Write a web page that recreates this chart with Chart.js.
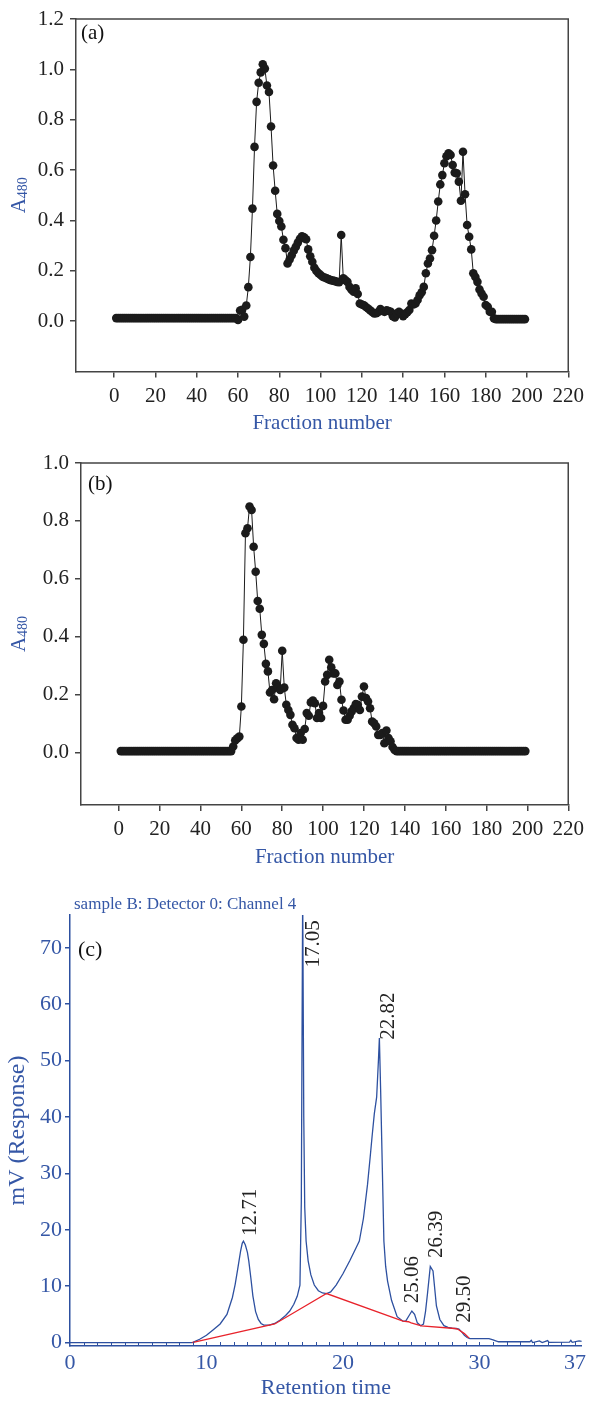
<!DOCTYPE html>
<html>
<head>
<meta charset="utf-8">
<script src="https://cdn.jsdelivr.net/npm/chart.js@4.4.1/dist/chart.umd.min.js"></script>
<style>
  html, body { margin: 0; padding: 0; background: #fff; }
  #wrap { position: relative; width: 590px; height: 1401px; }
  canvas { position: absolute; left: 0; }
</style>
</head>
<body>
<div id="wrap">
  <canvas id="chartA" width="590" height="440" style="top:0"></canvas>
  <canvas id="chartB" width="590" height="440" style="top:440px"></canvas>
  <canvas id="chartC" width="590" height="521" style="top:880px"></canvas>
</div>
<script>
/* ── Panels (a) and (b): A480 per fraction, fractions start at 1 ── */
const FIRST_FRACTION = 1;
const FRACTION_TICKS = [0, 20, 40, 60, 80, 100, 120, 140, 160, 180, 200, 220];

const A_VALUES = [
  0.012,0.012,0.012,0.012,0.012,0.012,0.012,0.012,0.012,0.012,
  0.012,0.012,0.012,0.012,0.012,0.012,0.012,0.012,0.012,0.012,
  0.012,0.012,0.012,0.012,0.012,0.012,0.012,0.012,0.012,0.012,
  0.012,0.012,0.012,0.012,0.012,0.012,0.012,0.012,0.012,0.012,
  0.012,0.012,0.012,0.012,0.012,0.012,0.012,0.012,0.012,0.012,
  0.012,0.012,0.012,0.012,0.012,0.012,0.012,0.012,0.012,0.005,
  0.042,0.045,0.018,0.062,0.135,0.255,0.447,0.692,0.871,0.947,
  0.988,1.02,1.003,0.936,0.91,0.773,0.618,0.518,0.426,0.398,
  0.376,0.323,0.29,0.229,0.245,0.262,0.28,0.295,0.312,0.327,
  0.337,0.333,0.325,0.285,0.258,0.236,0.212,0.199,0.19,0.183,
  0.176,0.173,0.17,0.166,0.163,0.161,0.159,0.156,0.155,0.342,
  0.17,0.163,0.156,0.136,0.125,0.117,0.13,0.108,0.07,0.066,
  0.063,0.056,0.05,0.043,0.036,0.031,0.032,0.036,0.048,0.04,
  0.037,0.043,0.04,0.037,0.02,0.015,0.031,0.037,0.03,0.02,
  0.028,0.035,0.044,0.07,0.066,0.07,0.084,0.103,0.115,0.136,
  0.19,0.229,0.249,0.282,0.339,0.40,0.475,0.543,0.58,0.627,
  0.655,0.667,0.66,0.62,0.59,0.587,0.554,0.478,0.673,0.504,
  0.382,0.335,0.285,0.19,0.175,0.156,0.126,0.11,0.097,0.064,
  0.057,0.037,0.037,0.011,0.008,0.008,0.008,0.008,0.008,0.008,
  0.008,0.008,0.008,0.008,0.008,0.008,0.008,0.008,0.008
];

const B_VALUES = [
  0.006,0.006,0.006,0.006,0.006,0.006,0.006,0.006,0.006,0.006,
  0.006,0.006,0.006,0.006,0.006,0.006,0.006,0.006,0.006,0.006,
  0.006,0.006,0.006,0.006,0.006,0.006,0.006,0.006,0.006,0.006,
  0.006,0.006,0.006,0.006,0.006,0.006,0.006,0.006,0.006,0.006,
  0.006,0.006,0.006,0.006,0.006,0.006,0.006,0.006,0.006,0.006,
  0.006,0.006,0.006,0.006,0.006,0.022,0.043,0.05,0.056,0.16,
  0.39,0.758,0.775,0.85,0.838,0.711,0.625,0.524,0.497,0.407,
  0.376,0.307,0.281,0.208,0.217,0.185,0.24,0.225,0.217,0.352,
  0.225,0.166,0.148,0.131,0.097,0.085,0.051,0.045,0.068,0.045,
  0.082,0.137,0.128,0.174,0.18,0.171,0.12,0.137,0.12,0.162,
  0.246,0.269,0.321,0.295,0.274,0.274,0.234,0.246,0.183,0.146,
  0.114,0.114,0.128,0.143,0.154,0.168,0.166,0.148,0.194,0.229,
  0.189,0.177,0.154,0.108,0.102,0.091,0.062,0.062,0.068,0.033,
  0.077,0.051,0.04,0.02,0.01,0.006,0.006,0.006,0.006,0.006,
  0.006,0.006,0.006,0.006,0.006,0.006,0.006,0.006,0.006,0.006,
  0.006,0.006,0.006,0.006,0.006,0.006,0.006,0.006,0.006,0.006,
  0.006,0.006,0.006,0.006,0.006,0.006,0.006,0.006,0.006,0.006,
  0.006,0.006,0.006,0.006,0.006,0.006,0.006,0.006,0.006,0.006,
  0.006,0.006,0.006,0.006,0.006,0.006,0.006,0.006,0.006,0.006,
  0.006,0.006,0.006,0.006,0.006,0.006,0.006,0.006,0.006
];

const A_Y_TICKS = [0, 0.2, 0.4, 0.6, 0.8, 1.0, 1.2];
const B_Y_TICKS = [0, 0.2, 0.4, 0.6, 0.8, 1.0];

/* ── Panel (c): chromatogram ── */
const RT_TIMES = [
  0, 8.9, 9.0, 9.5, 10.0, 10.5, 11.0, 11.5, 11.9, 12.1,
  12.3, 12.5, 12.62, 12.71, 12.85, 13.0, 13.1, 13.25, 13.4, 13.6,
  13.8, 14.0, 14.2, 14.6, 15.0, 15.4, 15.8, 16.1, 16.4, 16.65,
  16.85, 16.95, 17.05, 17.13, 17.2, 17.3, 17.45, 17.65, 17.9, 18.2,
  18.5, 18.8, 19.1, 19.5, 20.0, 20.5, 21.0, 21.2, 21.5, 21.8,
  22.0, 22.13, 22.3, 22.47, 22.6, 22.67, 22.76, 22.84, 22.93, 23.0,
  23.13, 23.27, 23.56, 23.97, 24.4, 24.6, 24.85, 25.05, 25.25, 25.45,
  25.7, 25.9, 26.05, 26.2, 26.4, 26.6, 26.85, 27.1, 27.4, 27.7,
  28.0, 28.3, 28.5, 28.7, 28.9, 29.1, 29.3, 30.0, 30.7, 31.0,
  31.4, 33.7, 33.8, 33.9, 34.4, 34.6, 35.0, 35.1, 36.6, 36.7,
  36.8, 37.3, 37.5
];
const RT_MV = [
  0, 0, 0.05, 0.6, 1.3, 2.3, 3.3, 5.0, 8.0, 10.3,
  13.2, 16.2, 17.6, 18.0, 17.3, 16.0, 14.5, 11.5, 8.3, 5.5,
  4.1, 3.4, 3.1, 3.1, 3.4, 4.0, 4.8, 5.6, 6.8, 8.2,
  10.2, 25, 80, 40, 24, 18, 14.5, 12, 10.2, 9.2,
  8.8, 8.7, 9.0, 10.2, 12.2, 14.5, 17.0, 18.0, 22.0, 28.0,
  33.0, 36.4, 40.6, 43.5, 50.0, 54.0, 45.0, 36.0, 26.0, 18.0,
  13.5, 10.9, 7.5, 4.6, 3.8, 3.8, 4.8, 5.6, 5.0, 3.5,
  3.0, 3.3, 5.5, 8.8, 13.5, 12.7, 6.5, 4.1, 3.0, 2.7,
  2.55, 2.5, 2.4, 1.9, 1.3, 0.9, 0.7, 0.7, 0.7, 0.5,
  0.15, 0.15, 0.4, 0.0, 0.3, 0.0, 0.35, 0.05, 0.1, 0.4,
  0.05, 0.3, 0.2
];

// integration baseline (red)
const BASE_TIMES = [8.95, 15.0, 18.8, 24.4, 24.8, 25.0, 25.75, 28.2, 28.4, 28.9, 29.25];
const BASE_MV    = [0, 3.3, 8.7, 3.8, 3.7, 3.5, 2.95, 2.5, 2.4, 1.6, 0.8];

const RT_TICKS = [0, 10, 20, 30, 37];
const MV_TICKS = [0, 10, 20, 30, 40, 50, 60, 70];

// peak annotations: text, label anchor in data units
const PEAK_NOTES = [
  { text: '12.71', t: 13.24, v: 18.9 },
  { text: '17.05', t: 17.87, v: 66.5 },
  { text: '22.82', t: 23.33, v: 53.7 },
  { text: '25.06', t: 25.09, v: 7.0 },
  { text: '26.39', t: 26.84, v: 15.0 },
  { text: '29.50', t: 28.87, v: 3.5 }
];

// ── Styles ────────────────────────────────
const SERIF      = '"Liberation Serif", "Times New Roman", serif';
const INK        = '#1b1b1b';
const AXIS_GREY  = '#444444';
const BLUE_TEXT  = '#3557a6';
const BLUE_LINE  = '#2d50a0';
const RED_LINE   = '#e8232b';

Chart.defaults.font.family = SERIF;

// Box, panel letter and A480 title
const decor = {
  id: 'decor',
  afterDraw(chart, args, o) {
    const { ctx, chartArea: a } = chart;
    ctx.save();
    if (o.box) {
      ctx.strokeStyle = AXIS_GREY;
      ctx.lineWidth = 1.5;
      ctx.beginPath();
      ctx.moveTo(a.left, a.top);
      ctx.lineTo(a.right, a.top);
      ctx.lineTo(a.right, a.bottom);
      ctx.stroke();
    }
    ctx.fillStyle = '#111';
    ctx.font = o.letterSize + 'px ' + SERIF;
    ctx.textAlign = 'left';
    ctx.textBaseline = 'alphabetic';
    ctx.fillText(o.letter, a.left + o.letterX, a.top + o.letterY);

    // rotated y title
    ctx.translate(o.titleX, (a.top + a.bottom) / 2);
    ctx.rotate(-Math.PI / 2);
    ctx.fillStyle = BLUE_TEXT;
    ctx.font = '21px ' + SERIF;
    const w1 = ctx.measureText(o.title).width;
    let w2 = 0;
    if (o.sub) {
      ctx.font = '14px ' + SERIF;
      w2 = ctx.measureText(o.sub).width;
    }
    const start = -(w1 + w2) / 2;
    ctx.font = '21px ' + SERIF;
    ctx.fillText(o.title, start, 0);
    if (o.sub) {
      ctx.font = '14px ' + SERIF;
      ctx.fillText(o.sub, start + w1, 2);
    }
    ctx.restore();
  }
};

function buildFractionChart(id, values, yMin, yMax, yTicks, lay) {
  const points = values.map((v, i) => ({ x: FIRST_FRACTION + i, y: v }));
  return new Chart(document.getElementById(id), {
    type: 'scatter',
    data: {
      datasets: [{
        data:                 points,
        showLine:             true,
        borderColor:          INK,
        borderWidth:          1,
        pointRadius:          4.3,
        pointHoverRadius:     4.3,
        pointBackgroundColor: INK,
        pointBorderWidth:     0
      }]
    },
    options: {
      responsive: false,
      animation:  false,
      events:     [],
      layout: {
        autoPadding: false,
        padding: { top: lay.top, right: lay.right, left: 0, bottom: 0 }
      },
      plugins: {
        legend:  { display: false },
        tooltip: { enabled: false },
        decor: {
          box: true, letter: lay.letter, letterSize: 21,
          letterX: lay.letterX, letterY: lay.letterY,
          title: 'A', sub: '480', titleX: 25
        }
      },
      scales: {
        x: {
          type: 'linear', min: -18.5, max: 220,
          afterBuildTicks: s => { s.ticks = FRACTION_TICKS.map(v => ({ value: v })); },
          afterFit: s => { s.height = lay.xHeight; },
          grid:   { display: true, drawOnChartArea: false, tickLength: 6, color: AXIS_GREY, lineWidth: 1.5 },
          border: { display: true, color: AXIS_GREY, width: 1.5 },
          ticks:  { color: '#222', font: { size: 21 }, padding: 6, maxRotation: 0 },
          title:  { display: true, text: 'Fraction number', color: BLUE_TEXT,
                    font: { size: 21 }, padding: { top: 0, bottom: lay.titlePad } }
        },
        y: {
          min: yMin, max: yMax,
          afterBuildTicks: s => { s.ticks = yTicks.map(v => ({ value: v })); },
          afterFit: s => { s.width = lay.left; },
          grid:   { display: true, drawOnChartArea: false, tickLength: 6, color: AXIS_GREY, lineWidth: 1.5 },
          border: { display: true, color: AXIS_GREY, width: 1.5 },
          ticks:  { color: '#222', font: { size: 21 }, padding: 6, callback: v => v.toFixed(1) }
        }
      }
    },
    plugins: [decor]
  });
}

buildFractionChart('chartA', A_VALUES, -0.2, 1.2, A_Y_TICKS, {
  top: 19, right: 18, left: 76, xHeight: 68.5, titlePad: 4,
  letter: '(a)', letterX: 5, letterY: 20
});

buildFractionChart('chartB', B_VALUES, -0.18, 1.0, B_Y_TICKS, {
  top: 23, right: 20.7, left: 81, xHeight: 75, titlePad: 10,
  letter: '(b)', letterX: 7, letterY: 27
});

// ── Chromatogram extras: header, minor ticks, peak labels ──
const chromDecor = {
  id: 'chromDecor',
  afterDraw(chart) {
    const { ctx, chartArea: a, scales: { x, y } } = chart;
    ctx.save();
    // minor ticks, inward
    ctx.strokeStyle = BLUE_LINE;
    ctx.lineWidth = 1;
    ctx.beginPath();
    for (let t = 1; t <= 37; t++) {
      const px = Math.round(x.getPixelForValue(t)) + 0.5;
      ctx.moveTo(px, a.bottom);
      ctx.lineTo(px, a.bottom - 4);
    }
    ctx.stroke();

    // header
    ctx.fillStyle = BLUE_TEXT;
    ctx.font = '17px ' + SERIF;
    ctx.textAlign = 'left';
    ctx.textBaseline = 'alphabetic';
    ctx.fillText('sample B: Detector 0: Channel 4', a.left + 4, a.top - 6);

    // panel letter
    ctx.fillStyle = '#111';
    ctx.font = '22px ' + SERIF;
    ctx.fillText('(c)', a.left + 8, a.top + 41);

    // peak labels
    ctx.fillStyle = '#222';
    ctx.font = '21px ' + SERIF;
    ctx.textBaseline = 'middle';
    PEAK_NOTES.forEach(p => {
      ctx.save();
      ctx.translate(x.getPixelForValue(p.t), y.getPixelForValue(p.v));
      ctx.rotate(-Math.PI / 2);
      ctx.fillText(p.text, 0, 0);
      ctx.restore();
    });

    // y title
    ctx.translate(18, (a.top + a.bottom) / 2);
    ctx.rotate(-Math.PI / 2);
    ctx.fillStyle = BLUE_TEXT;
    ctx.font = '24px ' + SERIF;
    ctx.textAlign = 'center';
    ctx.fillText('mV (Response)', 0, 0);
    ctx.restore();
  }
};

new Chart(document.getElementById('chartC'), {
  type: 'scatter',
  data: {
    datasets: [
      {
        label: 'baseline',
        data: BASE_TIMES.map((t, i) => ({ x: t, y: BASE_MV[i] })),
        showLine: true, borderColor: RED_LINE, borderWidth: 1.3,
        pointRadius: 0, pointHoverRadius: 0
      },
      {
        label: 'signal',
        data: RT_TIMES.map((t, i) => ({ x: t, y: RT_MV[i] })),
        showLine: true, borderColor: BLUE_LINE, borderWidth: 1.3,
        pointRadius: 0, pointHoverRadius: 0
      }
    ]
  },
  options: {
    responsive: false,
    animation:  false,
    events:     [],
    layout: {
      autoPadding: false,
      padding: { top: 35, right: 4.4, left: 0, bottom: 0 }
    },
    plugins: { legend: { display: false }, tooltip: { enabled: false } },
    scales: {
      x: {
        type: 'linear', min: 0, max: 37.5,
        afterBuildTicks: s => { s.ticks = RT_TICKS.map(v => ({ value: v })); },
        afterFit: s => { s.height = 55; },
        grid:   { display: false, drawTicks: false },
        border: { display: true, color: BLUE_LINE, width: 1.5 },
        ticks:  { color: BLUE_TEXT, font: { size: 22 }, padding: 4, maxRotation: 0 },
        title:  { display: true, text: 'Retention time', color: BLUE_TEXT,
                  font: { size: 22 }, padding: { top: 0, bottom: 0 } }
      },
      y: {
        min: -0.6, max: 75.8,
        afterBuildTicks: s => { s.ticks = MV_TICKS.map(v => ({ value: v })); },
        afterFit: s => { s.width = 70; },
        grid:   { display: true, drawOnChartArea: false, tickLength: 5, color: BLUE_LINE, lineWidth: 1.5 },
        border: { display: true, color: BLUE_LINE, width: 1.5 },
        ticks:  { color: BLUE_TEXT, font: { size: 22 }, padding: 3 }
      }
    }
  },
  plugins: [chromDecor]
});
</script>
</body>
</html>
